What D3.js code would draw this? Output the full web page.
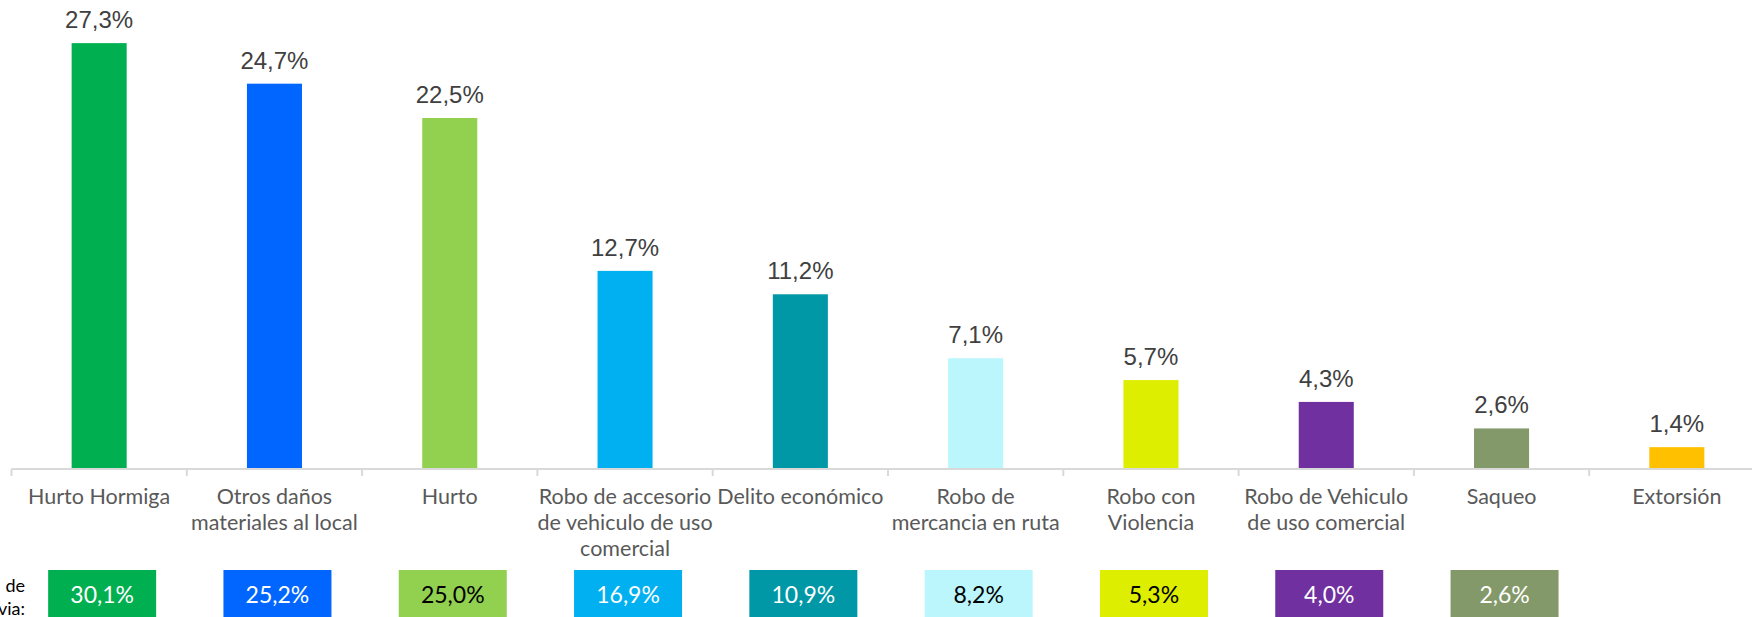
<!DOCTYPE html>
<html>
<head>
    <meta charset="utf-8">
    <title></title>
    <script src="https://d3js.org/d3.v7.min.js"></script>
    <style>
        body { margin: 0; background: #fff; }
        svg { display: block; }
    </style>
</head>
<body>

    <svg id="chart" width="1752" height="617"></svg>

    <script>

    // categories (line breaks as in the picture)
    var categorias = ["Hurto Hormiga", "Otros daños\nmateriales al local", "Hurto",
                      "Robo de accesorio\nde vehiculo de uso\ncomercial", "Delito económico",
                      "Robo de\nmercancia en ruta", "Robo con\nViolencia",
                      "Robo de Vehiculo\nde uso comercial", "Saqueo", "Extorsión"];
    var actual   = [27.3, 24.7, 22.5, 12.7, 11.2, 7.1, 5.7, 4.3, 2.6, 1.4];
    var previa   = [30.1, 25.2, 25.0, 16.9, 10.9, 8.2, 5.3, 4.0, 2.6, null];
    var colores  = ["#00b050", "#0066ff", "#92d050", "#00b0f0", "#0098a6",
                    "#bbf6fd", "#ddee00", "#7030a0", "#84996a", "#ffc000"];
    var textoBox = ["#fff", "#fff", "#000", "#fff", "#fff", "#000", "#000", "#fff", "#fff", "#fff"];

    var es = d3.formatLocale({decimal: ",", thousands: ".", grouping: [3], currency: ["", "€"]});
    var fmt = es.format(".1f");

    var svg = d3.select("#chart");

    var x = d3.scaleBand().domain(categorias).range([11.5, 1764.5]).padding(0);
    var y = d3.scaleLinear().domain([0, 30]).range([469, 1]);
    var barW = x.bandwidth() * 0.314;

    // bars
    svg.append("g").selectAll("rect")
        .data(actual).enter().append("rect")
        .attr("x", (d, i) => x(categorias[i]) + x.bandwidth() / 2 - barW / 2)
        .attr("y", d => y(d))
        .attr("width", barW)
        .attr("height", d => y(0) - y(d))
        .attr("fill", (d, i) => colores[i]);

    // value labels
    svg.append("g").selectAll("text")
        .data(actual).enter().append("text")
        .attr("x", (d, i) => x(categorias[i]) + x.bandwidth() / 2)
        .attr("y", d => y(d) - 15)
        .attr("text-anchor", "middle")
        .attr("font-family", "Liberation Sans, Arial, sans-serif")
        .attr("font-size", 24)
        .attr("fill", "#404040")
        .text(d => fmt(d) + "%");

    // category axis
    var eje = svg.append("g").attr("transform", "translate(0," + y(0) + ")");
    eje.append("line")
        .attr("x1", 11.5).attr("x2", 1764.5)
        .attr("stroke", "#d9d9d9").attr("stroke-width", 2);
    eje.selectAll("line.tick")
        .data(categorias).enter().append("line")
        .attr("class", "tick")
        .attr("x1", d => x(d)).attr("x2", d => x(d))
        .attr("y1", 0).attr("y2", 7)
        .attr("stroke", "#d9d9d9").attr("stroke-width", 2);

    var etiquetas = eje.selectAll("text.cat")
        .data(categorias).enter().append("text")
        .attr("class", "cat")
        .attr("text-anchor", "middle")
        .attr("font-family", "Lato, sans-serif")
        .attr("font-size", 21.5)
        .attr("fill", "#595959");
    etiquetas.selectAll("tspan")
        .data(d => d.split("\n").map(t => ({t: t, c: d})))
        .enter().append("tspan")
        .attr("x", d => x(d.c) + x.bandwidth() / 2)
        .attr("y", (d, i) => 35 + i * 25.8)
        .text(d => d.t);

    // boxes with the previous measurement
    var filas = previa.map((v, i) => ({v: v, i: i})).filter(d => d.v !== null);
    var cajas = svg.append("g").selectAll("g")
        .data(filas).enter().append("g")
        .attr("transform", d => "translate(" + (x(categorias[d.i]) + x.bandwidth() / 2 + 3) + ",570)");
    cajas.append("rect")
        .attr("x", -54).attr("width", 108)
        .attr("height", 60)
        .attr("fill", d => colores[d.i]);
    cajas.append("text")
        .attr("y", 33)
        .attr("text-anchor", "middle")
        .attr("font-family", "Lato, sans-serif")
        .attr("font-size", 23)
        .attr("fill", d => textoBox[d.i])
        .text(d => fmt(d.v) + "%");

    // row title on the left, cut off by the edge as in the picture
    var titulo = svg.append("g")
        .attr("font-family", "Lato, sans-serif")
        .attr("font-size", 18)
        .attr("fill", "#000")
        .attr("text-anchor", "end");
    titulo.append("text").attr("x", -4).attr("y", 592).text("Medición");
    titulo.append("text").attr("x", 25).attr("y", 592).text("de");
    titulo.append("text").attr("x", 25).attr("y", 615).text("medición previa:");

    </script>

</body>
</html>
